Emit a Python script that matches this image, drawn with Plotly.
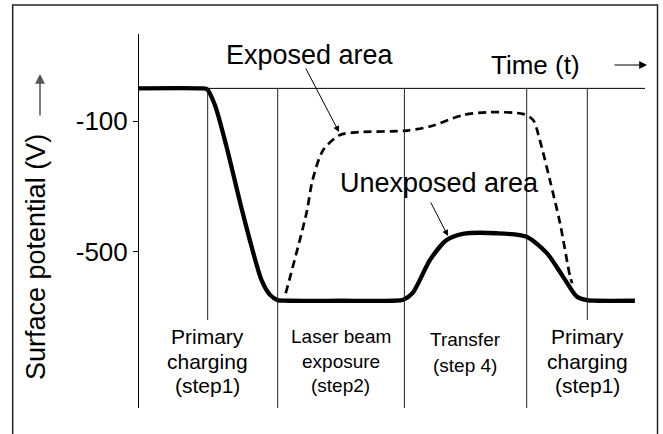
import plotly.graph_objects as go

# ---- data (time in arbitrary units 0..100, potential in V) ----
t_unexposed = [0, 12.0, 13.4, 15.0, 17.3, 20.5, 24.2, 25.9, 27.4, 29.5, 40.0, 50.5, 52.2,
               54.1, 57.5, 60.8, 64.0, 70.7, 76.6, 80.6, 83.8, 86.5, 88.5, 90.5, 98.0]
v_unexposed = [0, 0, -2, -51, -179, -382, -587, -633, -649, -651, -651, -651, -648,
               -627, -526, -465, -446, -444, -455, -505, -577, -638, -649, -651, -651]

t_exposed = [29.0, 33.1, 34.3, 36.4, 39.7, 43.7, 52.4, 57.5, 64.0, 69.4,
             76.0, 77.9, 79.2, 81.2, 83.2, 85.2, 85.6]
v_exposed = [-628, -382, -281, -189, -143, -134, -130, -117, -82, -73,
             -79, -97, -158, -281, -413, -577, -597]

step_t = [13.57, 27.41, 52.45, 76.62, 88.6]
step_short = [True, False, False, False, True]
step_bottom = -710

y_ticks = [-100, -500]
y_ticklabels = ["-100", "-500"]

stage_labels = [
    (13.57, ["Primary", "charging", "(step1)"], 21),
    (39.9, ["Laser beam", "exposure", "(step2)"], 19),
    (64.5, ["Transfer", "(step 4)"], 19),
    (88.6, ["Primary", "charging", "(step1)"], 21),
]

# ---- layout geometry (pixels) ----
W, H = 663, 434
L, R, T, B = 139, 645, 34, 408


def px(x):
    return (x - L) / (R - L)


def py(y):
    return (B - y) / (B - T)


FONT = "Liberation Sans, Arial, Helvetica, sans-serif"

fig = go.Figure()
fig.add_trace(go.Scatter(x=t_unexposed, y=v_unexposed, mode="lines",
                         line=dict(color="black", width=4.3, shape="spline", smoothing=0.7),
                         hoverinfo="skip", showlegend=False))
fig.add_trace(go.Scatter(x=t_exposed, y=v_exposed, mode="lines",
                         line=dict(color="black", width=2.7, dash="8px,5px", shape="spline", smoothing=0.8),
                         hoverinfo="skip", showlegend=False))

shapes = []
# outer frame
shapes.append(dict(type="rect", xref="paper", yref="paper",
                   x0=px(12.7), x1=px(657.5), y0=py(445), y1=py(5),
                   line=dict(color="#222", width=1.5), fillcolor="rgba(0,0,0,0)"))
# time line (0 V)
shapes.append(dict(type="line", xref="paper", yref="y", x0=0, x1=1, y0=0, y1=0,
                   line=dict(color="black", width=1)))
for tt, short in zip(step_t, step_short):
    if short:
        shapes.append(dict(type="line", xref="x", yref="y", x0=tt, x1=tt, y0=0, y1=step_bottom,
                           line=dict(color="#222", width=1)))
    else:
        shapes.append(dict(type="line", xref="x", yref="paper", x0=tt, x1=tt, y0=0, y1=py(88.3),
                           line=dict(color="#222", width=1)))

ann = []


def label(x, y, text, size, **kw):
    d = dict(x=x, y=y, xref="paper", yref="paper", text=text, showarrow=False,
             xanchor="center", yanchor="middle",
             font=dict(size=size, color="black", family=FONT))
    d.update(kw)
    ann.append(d)


# stage labels
for xc, lines, fs in stage_labels:
    rows = [336, 361, 385] if len(lines) == 3 else [339, 365]
    for i, s in enumerate(lines):
        label(xc, py(rows[i]), s, fs, xref="x")

label(px(310), py(55), "Exposed area", 27)
label(px(535), py(65), "Time (t)", 26)
label(px(439), py(183), "Unexposed area", 27)
label(px(36), py(257), "Surface potential (V)", 27, textangle=-90)

# pointer arrows
ann.append(dict(x=px(339), y=py(132), xref="paper", yref="paper", text="", showarrow=True,
                ax=-34, ay=-65, arrowhead=2, arrowsize=1.2, arrowwidth=1, arrowcolor="black"))
ann.append(dict(x=px(448), y=py(236), xref="paper", yref="paper", text="", showarrow=True,
                ax=-18, ay=-35, arrowhead=2, arrowsize=1.2, arrowwidth=1, arrowcolor="black"))
# axis direction arrows
ann.append(dict(x=px(40), y=py(74), xref="paper", yref="paper", text="", showarrow=True,
                ax=0, ay=43, arrowhead=2, arrowsize=1.3, arrowwidth=1.5, arrowcolor="#555"))
ann.append(dict(x=px(647), y=py(65), xref="paper", yref="paper", text="", showarrow=True,
                ax=-34, ay=0, arrowhead=2, arrowsize=1.3, arrowwidth=1.2, arrowcolor="black"))

v_top = -100 + (121 - T) / 0.32625
v_bot = -100 - (B - 121) / 0.32625

fig.update_layout(
    width=W, height=H,
    margin=dict(l=L, r=W - R, t=T, b=H - B, pad=0),
    paper_bgcolor="white", plot_bgcolor="white",
    font=dict(family=FONT, color="black"),
    shapes=shapes, annotations=ann,
    xaxis=dict(range=[0, 100], visible=False, fixedrange=True),
    yaxis=dict(range=[v_bot, v_top], showgrid=False, zeroline=False,
               showline=True, linecolor="black", linewidth=1,
               ticks="outside", ticklen=5, tickcolor="black", tickwidth=1,
               tickvals=y_ticks, ticktext=y_ticklabels,
               tickfont=dict(size=26, family=FONT, color="black"), fixedrange=True),
)

fig.write_html("out.html", config={"displayModeBar": False},
               post_script="document.body.style.margin='0';document.body.style.overflow='hidden';")
